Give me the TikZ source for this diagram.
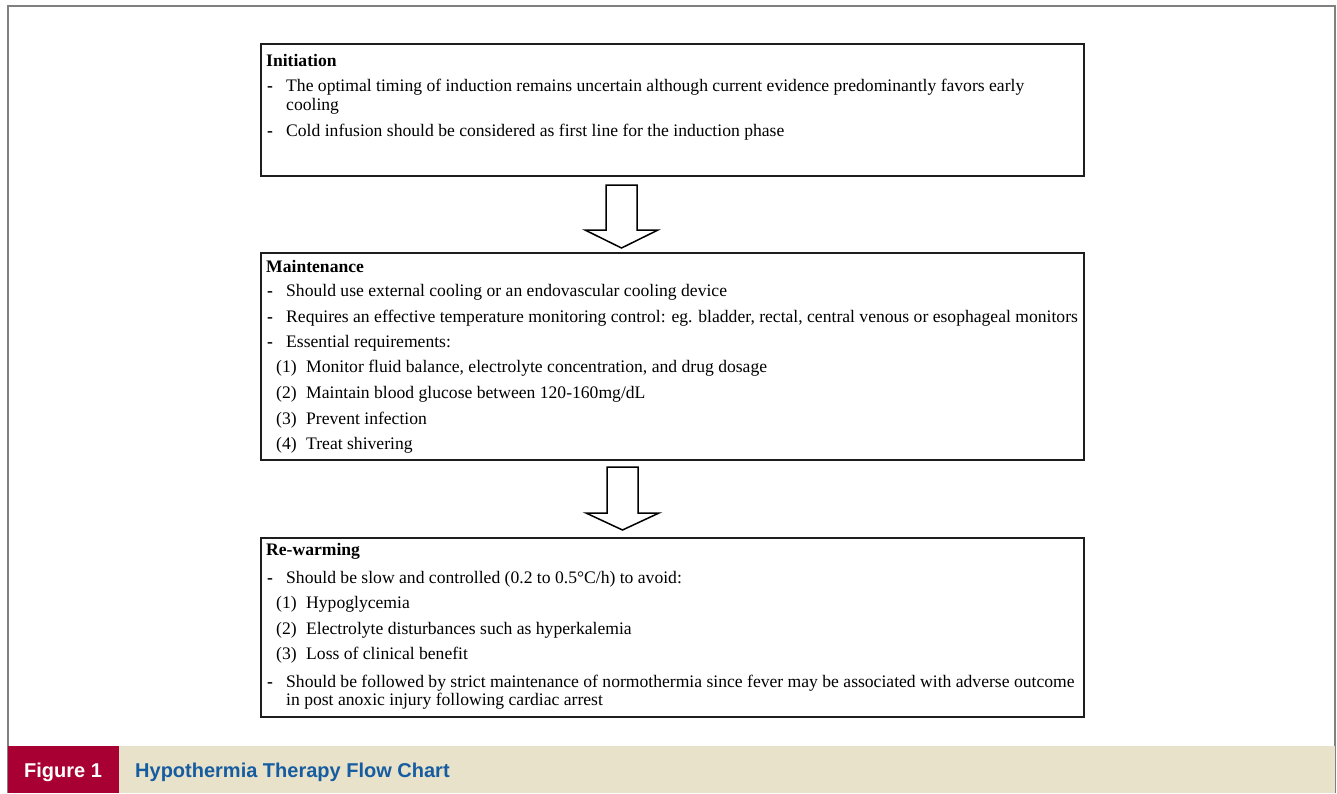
\documentclass[tikz,border=0pt]{standalone}
\usepackage{fontspec}
\setmainfont{Liberation Serif}
\newfontfamily\capfont{Liberation Sans}
\usetikzlibrary{calc}
\definecolor{capred}{RGB}{168,0,50}
\definecolor{capbeige}{RGB}{233,226,202}
\definecolor{capblue}{RGB}{22,92,160}
\definecolor{framegray}{RGB}{128,128,128}
\definecolor{boxline}{RGB}{30,30,30}
\tikzset{
  stagebox/.style={draw=boxline, line width=2pt, fill=white, anchor=north west, inner sep=0pt, minimum width=823pt},
  txt/.style={anchor=base west, inner sep=0pt, font=\fontsize{17.6}{20}\selectfont},
  dsh/.style={anchor=base west, inner sep=0pt, font=\fontsize{17.6}{20}\selectfont\bfseries},
  ttl/.style={anchor=base west, inner sep=0pt, font=\fontsize{17.6}{20}\selectfont\bfseries},
  blockarrow/.style={draw=black, line width=1.5pt, fill=white, line join=miter},
  figlab/.style={anchor=base west, inner sep=0pt, text=white, font=\capfont\bfseries\fontsize{20}{22}\selectfont},
  figttl/.style={anchor=base west, inner sep=0pt, text=capblue, font=\capfont\bfseries\fontsize{20}{22}\selectfont},
}
\begin{document}
\begin{tikzpicture}[x=1pt,y=-1pt]
\useasboundingbox (0,0) rectangle (1337,793);
\fill[white] (0,0) rectangle (1337,793);
\draw[framegray, line width=1.5pt] (8,793) -- (8,6) -- (1335,6) -- (1335,793);
\fill[capbeige] (119,746) rectangle (1335,793);
\fill[capred] (8,746) rectangle (119,793);
\node[figlab] (figlabel) at (24,777) {Figure 1};
\node[figttl] (figtitle) at (135,777) {Hypothermia Therapy Flow Chart};

% boxes
\node[stagebox, minimum height=132pt] (b1) at (260,43) {};
\node[stagebox, minimum height=207pt] (b2) at (260,252) {};
\node[stagebox, minimum height=179pt] (b3) at (260,537) {};

% arrows
\coordinate (a1top) at ($(b1.south west)+(361.5,8)$);
\coordinate (a1tip) at ($(b2.north west)+(361.5,-4)$);
\draw[blockarrow] ($(a1top)+(-15.5,0)$) -- ($(a1top)+(15.5,0)$) -- ($(a1tip)+(15.5,-18)$) -- ($(a1tip)+(36.5,-18)$) -- (a1tip) -- ($(a1tip)+(-36.5,-18)$) -- ($(a1tip)+(-15.5,-18)$) -- cycle;
\coordinate (a2top) at ($(b2.south west)+(362.5,6)$);
\coordinate (a2tip) at ($(b3.north west)+(362.5,-7)$);
\draw[blockarrow] ($(a2top)+(-15.5,0)$) -- ($(a2top)+(15.5,0)$) -- ($(a2tip)+(15.5,-17)$) -- ($(a2tip)+(36.5,-17)$) -- (a2tip) -- ($(a2tip)+(-36.5,-17)$) -- ($(a2tip)+(-15.5,-17)$) -- cycle;

% box 1 text
\node[ttl] (t1) at (266,66) {Initiation};
\node[dsh] (d11) at (267,91) {-};
\node[txt] (l11) at (286,91) {The optimal timing of induction remains uncertain although current evidence predominantly favors early};
\node[txt] (l12) at (286,110) {cooling};
\node[dsh] (d12) at (267,136) {-};
\node[txt] (l13) at (286,136) {Cold infusion should be considered as first line for the induction phase};

% box 2 text
\node[ttl] (t2) at (266,272) {Maintenance};
\node[dsh] (d21) at (267,296) {-};
\node[txt] (l21) at (286,296) {Should use external cooling or an endovascular cooling device};
\node[dsh] (d22) at (267,322) {-};
\node[txt] (l22) at (286,322) {Requires an effective temperature monitoring control: eg. bladder, rectal, central venous or esophageal monitors};
\node[dsh] (d23) at (267,347) {-};
\node[txt] (l23) at (286,347) {Essential requirements:};
\node[txt] (n21) at (276,372) {(1)};
\node[txt] (l24) at (306,372) {Monitor fluid balance, electrolyte concentration, and drug dosage};
\node[txt] (n22) at (276,398) {(2)};
\node[txt] (l25) at (306,398) {Maintain blood glucose between 120-160mg/dL};
\node[txt] (n23) at (276,424) {(3)};
\node[txt] (l26) at (306,424) {Prevent infection};
\node[txt] (n24) at (276,449) {(4)};
\node[txt] (l27) at (306,449) {Treat shivering};

% box 3 text
\node[ttl] (t3) at (266,555) {Re-warming};
\node[dsh] (d31) at (267,583) {-};
\node[txt] (l31) at (286,583) {Should be slow and controlled (0.2 to 0.5°C/h) to avoid:};
\node[txt] (n31) at (276,608) {(1)};
\node[txt] (l32) at (306,608) {Hypoglycemia};
\node[txt] (n32) at (276,634) {(2)};
\node[txt] (l33) at (306,634) {Electrolyte disturbances such as hyperkalemia};
\node[txt] (n33) at (276,659) {(3)};
\node[txt] (l34) at (306,659) {Loss of clinical benefit};
\node[dsh] (d32) at (267,687) {-};
\node[txt] (l35) at (286,687) {Should be followed by strict maintenance of normothermia since fever may be associated with adverse outcome};
\node[txt] (l36) at (286,705) {in post anoxic injury following cardiac arrest};
\end{tikzpicture}
\end{document}
